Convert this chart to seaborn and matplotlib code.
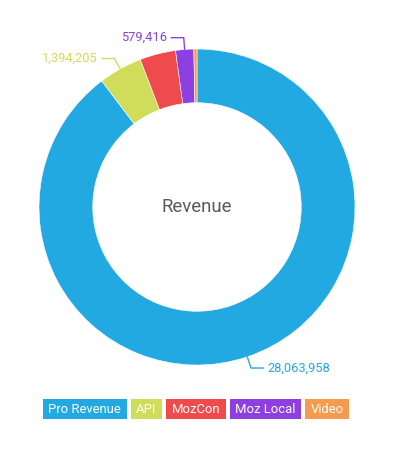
import matplotlib
matplotlib.use("Agg")
import matplotlib.pyplot as plt
import seaborn as sns
from matplotlib.patches import Rectangle
import numpy as np

CATEGORIES = ["Pro Revenue", "API", "MozCon", "Moz Local", "Video"]
REVENUE = [28063958, 1394205, 1150000, 579416, 100000]
SHOW_VALUE = [True, True, False, True, False]
COLORS = ["#23a9e1", "#cfdd5b", "#ef4b4c", "#8d3fe2", "#f59b50"]
CENTER_TITLE = "Revenue"

W_PX, H_PX = 399, 454
CX, CY, R_PX = 197, 207, 158


def fx(px):
    return px / W_PX


def fy(py):
    return 1 - py / H_PX


def add_value_labels(ax, wedges, values, show, colors):
    """Elbow leader line from the middle of each wedge to its value."""
    for w, val, s, c in zip(wedges, values, show, colors):
        if not s:
            continue
        mid = np.deg2rad((w.theta1 + w.theta2) / 2)
        dx, dy = np.cos(mid), np.sin(mid)
        side = 1 if dx >= 0 else -1
        p0 = (dx * 1.0, dy * 1.0)
        p1 = (dx * 1.075, dy * 1.075)
        p2 = (p1[0] + side * 0.08, p1[1])
        ax.plot([p0[0], p1[0], p2[0]], [p0[1], p1[1], p2[1]],
                color=c, lw=1, clip_on=False)
        ax.text(p2[0] + side * 0.025, p2[1], f"{val:,}", color=c,
                fontsize=9.3, ha="left" if side > 0 else "right",
                va="center", clip_on=False)


def add_box_legend(fig, labels, colors, center_x, top_y, height=20,
                   pad=5.5, gap=4):
    """Row of filled boxes with white text, centred under the chart."""
    renderer = fig.canvas.get_renderer()
    texts = []
    widths = []
    for lab in labels:
        t = fig.text(0, 0, lab, color="white", fontsize=9.4,
                     ha="center", va="center")
        texts.append(t)
        widths.append(t.get_window_extent(renderer).width)
    total = sum(w + 2 * pad for w in widths) + gap * (len(labels) - 1)
    x = center_x - total / 2
    for t, w, c in zip(texts, widths, colors):
        bw = w + 2 * pad
        fig.patches.append(Rectangle((fx(x), fy(top_y + height)),
                                     bw / W_PX, height / H_PX,
                                     transform=fig.transFigure,
                                     facecolor=c, edgecolor="none",
                                     zorder=1))
        t.set_position((fx(x + bw / 2), fy(top_y + height / 2 + 0.5)))
        t.set_zorder(2)
        x += bw + gap


def main():
    sns.set_theme(style="white")
    plt.rcParams["font.family"] = ["Roboto", "DejaVu Sans"]
    palette = sns.color_palette(COLORS)

    fig = plt.figure(figsize=(W_PX / 100, H_PX / 100), dpi=100)
    ax = fig.add_axes([fx(CX - R_PX), fy(CY + R_PX),
                       2 * R_PX / W_PX, 2 * R_PX / H_PX])

    wedges, _ = ax.pie(REVENUE, colors=palette, startangle=90,
                       counterclock=False, radius=1,
                       wedgeprops=dict(width=0.34, edgecolor="white",
                                       linewidth=0.4))
    ax.set_xlim(-1, 1)
    ax.set_ylim(-1, 1)
    ax.axis("off")

    ax.text(0, 0, CENTER_TITLE, ha="center", va="center",
            fontsize=13.4, color="#5a5a5a")

    add_value_labels(ax, wedges, REVENUE, SHOW_VALUE, COLORS)
    add_box_legend(fig, CATEGORIES, COLORS, 196, 399)

    fig.savefig("out.png", dpi=100)


if __name__ == "__main__":
    main()
